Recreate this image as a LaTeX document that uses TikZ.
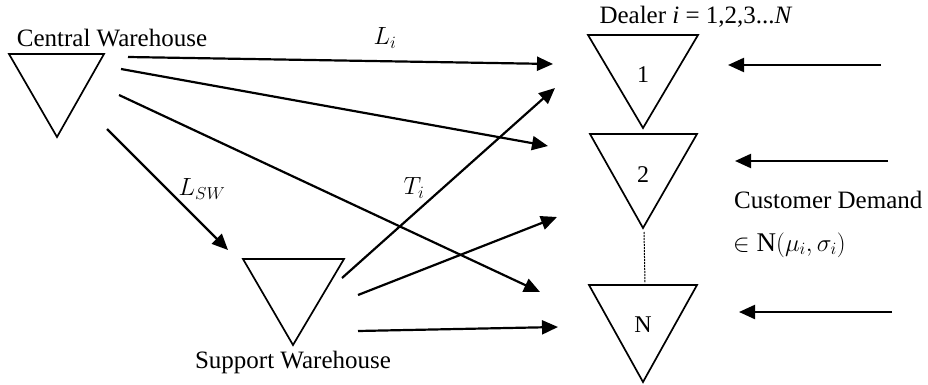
\documentclass[tikz,border=0pt]{standalone}
\usepackage{fontspec}
\setmainfont{Liberation Serif}
\usetikzlibrary{arrows.meta}
\begin{document}
\begin{tikzpicture}[x=1pt,y=-1pt,
  tri/.style={draw=black,line width=1.7pt,line join=miter},
  flow/.style={draw=black,line width=2.2pt,-{Triangle[length=16pt,width=14pt]}},
  lbl/.style={font=\fontsize{25}{28}\selectfont,inner sep=0pt},
  num/.style={font=\fontsize{24}{28}\selectfont,inner sep=0pt},
  mlbl/.style={font=\fontsize{27}{30}\selectfont,inner sep=0pt}]
\useasboundingbox (0,0) rectangle (928,385);
% triangles
\draw[tri] (9,54) -- (104,54) -- (57,137) -- cycle;
\draw[tri] (243,259) -- (344,259) -- (293,345) -- cycle;
\draw[tri] (588,35) -- (698,35) -- (643,128) -- cycle;
\draw[tri] (590,134) -- (697,134) -- (643,228) -- cycle;
\draw[tri] (589,285) -- (697,285) -- (643,382) -- cycle;
% labels
\node[lbl] (cwl) at (112,38) {Central Warehouse};
\node[lbl] (swl) at (293,362) {Support Warehouse};
\node[lbl] (dl) at (696,17) {Dealer \textit{i} = 1,2,3...\textit{N}};
\node[num] (d1) at (643,75) {1};
\node[num] (d2) at (643,175) {2};
\node[num] (dn) at (643,325) {N};
\node[lbl,anchor=west] (cd) at (734,200) {Customer Demand};
\node[mlbl,anchor=west] (nd) at (733,245) {$\in \mathrm{N}(\mu_i,\sigma_i)$};
\node[mlbl] (li) at (385,38) {$L_i$};
\node[mlbl] (lsw) at (202,189) {$L_{SW}$};
\node[mlbl] (ti) at (414,188) {$T_i$};
% connector end points
\coordinate (cwa) at (128,57);  \coordinate (d1a) at (553,64);
\coordinate (cwb) at (121,69);  \coordinate (d2a) at (548,146);
\coordinate (cwc) at (119,95);  \coordinate (dna) at (540,292);
\coordinate (cwd) at (107,129); \coordinate (swa) at (228,250);
\coordinate (swb) at (342,278); \coordinate (d1b) at (555,88);
\coordinate (swc) at (358,295); \coordinate (d2b) at (557,217);
\coordinate (swd) at (358,331); \coordinate (dnb) at (558,327);
\coordinate (c1) at (881,65);   \coordinate (d1c) at (728,65);
\coordinate (c2) at (888,161);  \coordinate (d2c) at (735,161);
\coordinate (c3) at (892,312);  \coordinate (dnc) at (739,312);
\coordinate (dot1) at (644,232); \coordinate (dot2) at (645,283);
% connectors
\draw[flow] (cwa) -- (d1a);
\draw[flow] (cwb) -- (d2a);
\draw[flow] (cwc) -- (dna);
\draw[flow] (cwd) -- (swa);
\draw[flow] (swb) -- (d1b);
\draw[flow] (swc) -- (d2b);
\draw[flow] (swd) -- (dnb);
\draw[flow] (c1) -- (d1c);
\draw[flow] (c2) -- (d2c);
\draw[flow] (c3) -- (dnc);
\draw[line width=1pt,dash pattern=on 2pt off 1pt] (dot1) -- (dot2);
\end{tikzpicture}
\end{document}
